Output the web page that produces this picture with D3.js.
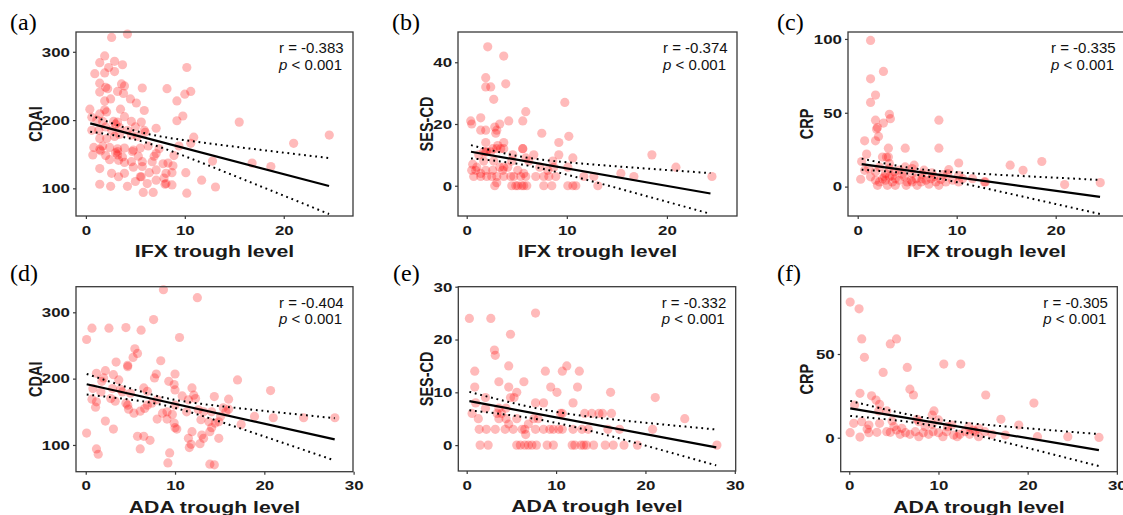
<!DOCTYPE html>
<html>
<head>
<meta charset="utf-8">
<script src="https://cdn.jsdelivr.net/npm/d3@7"></script>
<style>
  body { margin: 0; background: #fff; }
  svg { display: block; }
</style>
</head>
<body>
<svg id="fig" width="1123" height="515"></svg>
<script>
// ---- data: [trough level, score] ----
var ifxCdai = [[2.6,321],[4.2,326],[1.9,294],[1.4,284],[2.9,286],[3.7,281],[0.9,268],[1.9,269],[2.9,271],[2.3,277],[1.4,254],[2.0,248],[2.2,246],[3.6,253],[3.9,250],[1.4,241],[3.2,242],[3.8,239],[5.7,247],[8.2,246],[1.9,228],[2.5,231],[4.5,231],[5.1,225],[9.2,228],[10.0,238],[10.6,242],[10.2,277],[0.4,216],[1.9,215],[1.4,209],[2.1,212],[3.5,216],[3.9,205],[5.9,214],[9.8,206],[9.2,199],[15.5,197],[0.6,204],[1.1,200],[1.7,198],[2.8,198],[3.0,194],[3.2,197],[4.6,198],[5.6,197],[7.1,188],[0.6,185],[1.3,185],[2.0,190],[2.6,185],[3.4,189],[4.2,185],[5.0,190],[5.9,185],[6.0,182],[1.4,173],[2.1,173],[2.9,176],[3.4,179],[4.6,178],[5.2,176],[10.9,175],[10.6,166],[9.4,162],[0.8,160],[1.7,162],[2.4,160],[3.2,158],[3.9,159],[4.8,156],[5.5,159],[6.3,162],[1.4,157],[3.2,154],[3.0,152],[0.7,149],[2.0,148],[3.2,149],[3.7,146],[4.7,154],[5.3,147],[6.9,147],[7.4,158],[8.9,148],[7.1,151],[1.5,155],[2.4,142],[3.3,141],[3.9,138],[4.6,139],[5.7,139],[6.7,139],[7.8,136],[8.3,137],[8.8,133],[12.8,140],[16.8,137],[18.7,132],[21.0,166],[24.6,178],[1.4,129],[2.6,122],[3.3,117],[3.9,122],[4.8,131],[5.7,132],[5.6,117],[6.4,123],[7.1,127],[8.1,122],[8.7,123],[10.1,123],[1.4,106],[2.5,103],[4.2,103],[5.0,110],[5.5,117],[6.2,107],[7.1,112],[7.9,115],[8.1,107],[8.7,105],[11.7,112],[13.1,102],[5.8,94],[6.8,94],[8.0,106],[10.2,93]];

var ifxSes = [[2.1,45],[3.7,42],[1.9,35],[1.9,32],[2.4,32],[3.9,33],[2.7,28],[9.8,27],[0.4,21],[0.5,20],[1.4,22],[5.9,24],[4.2,21],[5.6,21],[3.3,20],[1.4,18],[1.9,18],[2.8,19],[3.0,18],[2.9,17],[7.5,17],[1.9,14],[3.7,14],[3.1,13],[9.2,14],[10.2,16],[5.6,12],[5.6,12],[2.6,12],[3.0,12],[3.4,12],[3.7,12],[2.0,11],[1.9,11],[1.7,11],[1.2,10],[2.4,11],[4.6,10],[6.7,10],[9.2,10],[10.6,9],[18.5,10],[0.6,7],[1.0,6],[1.7,8],[2.7,8],[3.3,6],[3.7,6],[4.1,6],[4.5,8],[5.9,9],[6.2,8],[7.3,6],[8.6,8],[8.7,6],[10.1,6],[20.9,6],[15.4,4],[16.7,3],[24.5,3],[11.7,3],[12.7,3],[0.5,5],[0.9,5],[1.4,4],[0.7,3],[1.4,3],[2.0,3],[2.5,3],[3.0,3],[3.7,3],[4.4,3],[4.7,3],[5.4,3],[5.9,3],[6.9,3],[7.7,3],[8.2,3],[8.9,3],[1.9,5],[2.6,5],[3.6,5],[5.1,5],[5.7,4],[8.1,5],[3.0,1],[2.8,0],[4.5,0],[5.1,0],[5.7,0],[6.0,0],[7.7,0],[8.5,0],[10.1,0],[10.6,0],[10.9,0],[13.1,0],[4.9,0],[5.5,0]];

var ifxCrp = [[1.3,99],[2.6,78],[1.3,73],[1.8,62],[1.3,57],[3.2,49],[3.3,46],[1.8,45],[2.6,43],[8.2,45],[1.9,39],[2.0,40],[2.1,34],[1.8,31],[0.7,31],[0.9,22],[4.8,26],[8.2,26],[3.1,26],[2.5,20],[2.9,20],[0.4,17],[0.7,11],[15.4,14.5],[16.7,11],[18.6,17],[10.2,16],[20.9,1.4],[24.5,2.7],[0.3,5],[3.1,20],[3.2,15.6],[4.8,13.3],[5.7,14.5],[5.5,12.2],[9.2,11.5],[9.1,8.8],[10.2,7.7],[10.6,5.4],[12.8,3.2],[12.9,3.2],[11.6,5.4],[1.3,6.6],[1.8,4.3],[2.2,3.2],[2.5,5.4],[2.8,4.3],[3.2,6.6],[3.5,3.2],[3.8,5.4],[4.2,4.3],[4.7,6.6],[5.0,3.2],[5.4,4.3],[5.9,5.4],[6.4,3.2],[6.9,4.3],[7.4,5.4],[7.9,3.2],[8.4,4.8],[8.9,3.2],[9.6,4.3],[10.2,3.2],[2.0,0.9],[3.0,0.9],[3.8,0.9],[4.9,0.9],[6.0,0.9],[7.2,1.6],[8.2,0.9],[1.8,10],[2.8,8.8],[3.7,10],[4.5,8.4],[5.5,8.8],[6.5,8.4],[7.5,9.3],[8.6,8.1],[1.1,12.2],[2.2,13.3],[3.2,12.2],[4.2,11.1],[6.7,11.1],[7.7,6.6],[2.7,6.6],[3.5,7.2],[5.5,3.2],[6.5,5.4]];

var adaCdai = [[8.7,334],[12.5,322],[7.6,289],[0.7,276],[2.6,276],[4.5,277],[6.2,273],[0.1,259],[10.5,262],[5.5,245],[5.8,238],[5.3,232],[3.4,225],[4.7,218],[4.7,220],[8.4,227],[2.2,212],[1.2,208],[3.1,206],[3.7,198],[2.0,201],[7.9,207],[10.0,207],[9.3,196],[7.7,201],[17.0,198],[20.7,182],[0.8,185],[1.8,196],[1.7,180],[3.0,185],[3.9,184],[4.1,180],[6.5,186],[6.9,181],[5.0,178],[9.9,191],[10.0,183],[10.8,174],[11.5,168],[11.9,186],[12.1,175],[12.3,170],[14.4,173],[16.0,169],[16.0,154],[15.7,150],[15.4,156],[0.7,169],[1.2,165],[1.1,157],[2.8,170],[3.3,166],[4.5,163],[4.7,160],[4.8,154],[5.4,148],[6.1,151],[6.6,155],[6.9,160],[7.4,163],[8.0,168],[8.6,148],[9.1,150],[9.7,146],[10.0,160],[11.3,150],[12.6,153],[13.2,150],[14.1,150],[12.9,138],[13.8,135],[15.1,143],[14.9,135],[18.9,143],[21.0,141],[24.4,141],[27.9,141],[17.4,131],[2.2,136],[3.1,124],[8.0,139],[9.1,139],[0.1,118],[9.9,133],[10.0,126],[10.2,124],[11.9,120],[11.5,110],[13.0,115],[13.2,110],[13.9,120],[14.1,126],[14.5,133],[14.9,110],[5.8,113],[6.5,113],[7.2,107],[11.6,96],[11.8,101],[12.8,102],[1.2,94],[1.4,86],[6.1,94],[9.4,88],[9.2,73],[13.9,71],[14.4,70]];

var adaSes = [[0.3,24],[2.7,24],[7.7,25],[4.9,21],[3.1,18],[3.2,17],[0.9,14],[4.7,15],[3.6,12],[0.9,11],[4.7,11],[6.4,12],[11.2,15],[10.7,14],[8.8,14],[12.6,14],[9.4,11],[12.4,11],[10.1,10],[16.1,10],[5.6,10],[2.1,9],[4.9,9],[5.3,9],[7.7,8],[8.6,8],[11.9,8],[21.1,9],[1.0,8],[2.1,7],[4.4,7],[3.6,7],[0.6,6],[3.4,6],[3.9,6],[10.5,6],[10.7,6],[13.2,6],[14.0,6],[14.8,6],[15.2,6],[16.2,6],[1.3,5],[3.6,5],[4.4,5],[4.7,4],[5.6,5],[7.5,5],[8.0,5],[6.9,4],[6.5,3],[1.4,3],[2.2,3],[3.2,3],[4.3,3],[5.2,3],[6.2,3],[7.7,3],[8.6,3],[9.3,3],[9.7,3],[10.3,3],[10.7,3],[11.9,3],[12.9,3],[13.6,3],[15.8,3],[17.1,3],[20.8,3],[6.6,2],[1.5,0],[2.4,0],[5.6,0],[6.0,0],[6.5,0],[6.9,0],[7.3,0],[7.8,0],[9.0,0],[9.7,0],[11.8,0],[12.1,0],[12.8,0],[13.1,0],[13.4,0],[14.2,0],[15.5,0],[16.4,0],[17.6,0],[19.1,0],[28.0,0],[24.4,5]];

var adaCrp = [[0.1,81],[1.1,77],[1.4,59],[4.6,56],[5.3,59],[1.7,48],[6.5,42],[10.6,44],[12.5,44],[3.8,39],[6.8,29],[7.2,25.5],[1.2,26.5],[15.3,25.5],[2.5,25],[3.0,22.5],[3.4,20],[0.6,19.5],[20.7,20.7],[4.2,16],[3.3,16],[9.5,16],[9.3,13.5],[7.6,11],[7.8,9.6],[17.0,11],[19.0,7.6],[4.8,10],[10.0,10.6],[0.5,8.6],[1.4,9.6],[2.2,7.6],[3.4,8.6],[2.0,5.2],[0.1,3],[1.2,0.4],[2.2,3],[3.1,3.2],[4.2,3.6],[4.6,3.2],[5.3,4.6],[5.7,2],[6.3,3],[6.8,2],[7.4,3.6],[7.8,0.6],[8.3,3],[8.9,2],[9.4,3.6],[10.0,3],[10.5,0.6],[10.9,3.6],[11.7,1.6],[12.1,0.6],[12.4,2],[13.0,3.6],[13.5,2],[14.1,3.6],[14.5,0.6],[15.2,3.6],[16.0,2],[17.5,1.6],[11.0,6.6],[11.5,7.6],[13.4,6.6],[13.9,4.6],[14.5,5.6],[5.0,6.6],[5.9,5.6],[8.5,6.6],[9.3,8],[21.1,0.6],[24.5,0.6],[28.0,0.2]];

// fitted line: [xStart, yStart, xEnd, yEnd, ciHalfStart, ciHalfEnd]
var fitA = [0.44, 195.1, 24.58, 103.4, 12.2, 41];
var fitB = [0.43, 11.0, 24.35, -2.5, 2.15, 6.6];
var fitC = [0.40, 15.2, 24.48, -7.0, 3.75, 11.55];
var fitD = [0.11, 191.5, 27.88, 108.5, 15.5, 31.9];
var fitE = [0.30, 8.34, 27.92, -0.44, 1.75, 3.4];
var fitF = [0.11, 17.5, 27.99, -7.4, 4.5, 9.55];

var rLabels = ["r = -0.383", "r = -0.374", "r = -0.335", "r = -0.404", "r = -0.332", "r = -0.305"];
var panelTags = ["(a)", "(b)", "(c)", "(d)", "(e)", "(f)"];
var yTitles = ["CDAI", "SES-CD", "CRP", "CDAI", "SES-CD", "CRP"];
var xTitles = ["IFX trough level", "IFX trough level", "IFX trough level", "ADA trough level", "ADA trough level", "ADA trough level"];
var xTicksIfx = [0, 10, 20];
var xTicksAda = [0, 10, 20, 30];
var yTicks = [[100, 200, 300], [0, 20, 40], [0, 50, 100], [100, 200, 300], [0, 10, 20, 30], [0, 50]];

// ---- layout ----
var panels = [
  {data: ifxCdai, fit: fitA, box: [76, 32, 353, 216],  xd: [-1.0, 27.0],  yd: [59.5, 329],   xt: xTicksIfx, tag: 10,  yOff: 41},
  {data: ifxSes,  fit: fitB, box: [458, 32, 737, 216], xd: [-0.87, 27.0], yd: [-9.8, 49.8],  xt: xTicksIfx, tag: 392, yOff: 31.5},
  {data: ifxCrp,  fit: fitC, box: [848, 32, 1125, 216], xd: [-0.98, 27.0], yd: [-19.9, 104.7], xt: xTicksIfx, tag: 777, yOff: 41.5},
  {data: adaCdai, fit: fitD, box: [76, 286.7, 353, 471.7], xd: [-1.09, 29.93], yd: [59.7, 338.6], xt: xTicksAda, tag: 10, yOff: 41},
  {data: adaSes,  fit: fitE, box: [458.3, 286.7, 735.7, 471], xd: [-0.94, 30.1], yd: [-4.9, 30], xt: xTicksAda, tag: 393, yOff: 32},
  {data: adaCrp,  fit: fitF, box: [840.7, 286.7, 1117.3, 471.7], xd: [-0.96, 30.05], yd: [-20.3, 90.2], xt: xTicksAda, tag: 777, yOff: 34}
];

var svg = d3.select("#fig");
var stretch = 1.25;   // bold labels in the figure are drawn wide
var boldFont = "'Liberation Sans', Arial, sans-serif";

panels.forEach(function(p, i) {
  var L = p.box[0], T = p.box[1], R = p.box[2], B = p.box[3];
  var x = d3.scaleLinear().domain(p.xd).range([L, R]);
  var y = d3.scaleLinear().domain(p.yd).range([B, T]);
  var g = svg.append("g");

  // panel tag
  svg.append("text")
    .attr("x", p.tag).attr("y", i < 3 ? 30 : 281)
    .attr("font-family", "'Liberation Serif', 'Times New Roman', serif")
    .attr("font-size", 24)
    .text(panelTags[i]);

  // points
  g.selectAll("circle")
    .data(p.data)
    .join("circle")
    .attr("cx", d => x(d[0]))
    .attr("cy", d => y(d[1]))
    .attr("r", 4.6)
    .attr("fill", "#ff0000")
    .attr("fill-opacity", 0.27);

  // regression line + confidence band
  var f = p.fit;
  var slope = (f[3] - f[1]) / (f[2] - f[0]);
  var yhat = t => f[1] + slope * (t - f[0]);
  var xbar = d3.mean(p.data, d => d[0]);
  var dl = Math.pow(f[0] - xbar, 2), dr = Math.pow(f[2] - xbar, 2);
  var bq = (f[5] * f[5] - f[4] * f[4]) / (dr - dl);
  var aq = Math.max(f[4] * f[4] - bq * dl, 0.05 * f[4] * f[4]);
  var half = t => Math.sqrt(aq + bq * Math.pow(t - xbar, 2));
  var xs = d3.range(0, 81).map(k => f[0] + (f[2] - f[0]) * k / 80);

  var line = d3.line().x(d => x(d[0])).y(d => y(d[1]));
  [1, -1].forEach(function(sg) {
    g.append("path")
      .attr("d", line(xs.map(t => [t, yhat(t) + sg * half(t)])))
      .attr("fill", "none")
      .attr("stroke", "#000")
      .attr("stroke-width", 2)
      .attr("stroke-dasharray", "1.8,3.8");
  });
  g.append("path")
    .attr("d", line([[f[0], f[1]], [f[2], f[3]]]))
    .attr("fill", "none")
    .attr("stroke", "#000")
    .attr("stroke-width", 2.2);

  // frame
  g.append("rect")
    .attr("x", L).attr("y", T)
    .attr("width", R - L).attr("height", B - T)
    .attr("fill", "none")
    .attr("stroke", "#3a3a3a")
    .attr("stroke-width", 1.3);

  // axes
  var xAxis = d3.axisBottom(x).tickValues(p.xt).tickSize(3).tickPadding(6).tickFormat(d3.format("d"));
  var gx = g.append("g").attr("transform", "translate(0," + B + ")").call(xAxis);
  var yAxis = d3.axisLeft(y).tickValues(yTicks[i]).tickSize(3).tickPadding(3).tickFormat(d3.format("d"));
  var gy = g.append("g").attr("transform", "translate(" + L + ",0)").call(yAxis);

  [gx, gy].forEach(function(ax) {
    ax.select(".domain").remove();
    ax.selectAll(".tick line").attr("stroke", "#3a3a3a").attr("stroke-width", 1.2);
    ax.selectAll(".tick text")
      .attr("font-family", boldFont)
      .attr("font-weight", "bold")
      .attr("font-size", 13.5)
      .attr("fill", "#1a1a1a")
      .attr("transform", "scale(" + stretch + ",1)");
  });
  gy.selectAll(".tick text").attr("x", -6 / stretch);

  // axis titles
  svg.append("text")
    .attr("transform", "translate(" + ((L + R) / 2) + "," + (B + 41) + ") scale(" + stretch + ",1)")
    .attr("text-anchor", "middle")
    .attr("font-family", boldFont)
    .attr("font-weight", "bold")
    .attr("font-size", 17)
    .attr("fill", "#1a1a1a")
    .text(xTitles[i]);

  svg.append("text")
    .attr("transform", "translate(" + (L - p.yOff) + "," + ((T + B) / 2) + ") scale(" + stretch + ",1) rotate(-90)")
    .attr("text-anchor", "middle")
    .attr("dy", "0.36em")
    .attr("font-family", boldFont)
    .attr("font-weight", "bold")
    .attr("font-size", 14.5)
    .attr("fill", "#1a1a1a")
    .text(yTitles[i]);

  // correlation note
  var note = svg.append("text")
    .attr("font-family", "'Liberation Sans', Arial, sans-serif")
    .attr("font-size", 15)
    .attr("fill", "#111");
  note.append("tspan").attr("x", R - 74).attr("y", T + 21).text(rLabels[i]);
  var pl = note.append("tspan").attr("x", R - 74).attr("y", T + 37.5);
  pl.append("tspan").attr("font-style", "italic").text("p");
  pl.append("tspan").text(" < 0.001");
});
</script>
</body>
</html>
